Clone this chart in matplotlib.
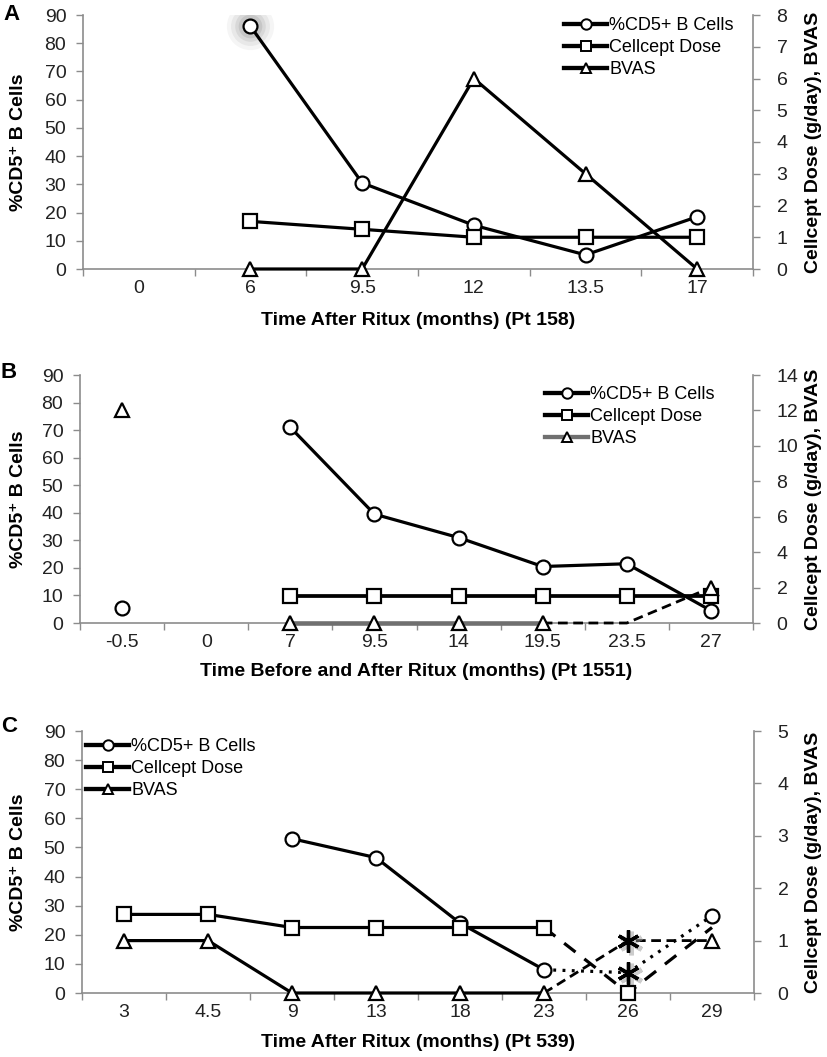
import numpy as np
import matplotlib
matplotlib.use("Agg")
import matplotlib.pyplot as plt
from matplotlib.lines import Line2D

plt.rcParams['font.family'] = ['Liberation Sans', 'DejaVu Sans']

nan = np.nan

# ---------------- Data ----------------
# Panel A (Pt 158)
cats_a = ["0", "6", "9.5", "12", "13.5", "17"]
cd5_a = [nan, 86, 30.5, 15.5, 5, 18.5]
cellcept_a = [nan, 1.5, 1.25, 1.0, 1.0, 1.0]
bvas_a = [nan, 0, 0, 6, 3, 0]

# Panel B (Pt 1551)
cats_b = ["-0.5", "0", "7", "9.5", "14", "19.5", "23.5", "27"]
cd5_b = [5.5, nan, 71, 39.5, 31, 20.5, 21.5, 4.5]
cellcept_b = [nan, nan, 1.5, 1.5, 1.5, 1.5, 1.5, 1.5]
bvas_b = [12, nan, 0, 0, 0, 0, nan, 2]
bvas_b_dashed = [nan, nan, nan, nan, nan, 0, 0, 2]

# Panel C (Pt 539)
cats_c = ["3", "4.5", "9", "13", "18", "23", "26", "29"]
cd5_c = [nan, nan, 53, 46.5, 24, 8, nan, 26.5]
cd5_c_dotted = [nan, nan, nan, nan, nan, 8, 7, 26.5]
cellcept_c = [1.5, 1.5, 1.25, 1.25, 1.25, 1.25, nan, nan]
cellcept_c_dashed = [nan, nan, nan, nan, nan, 1.25, 0, 1.25]
bvas_c = [1, 1, 0, 0, 0, 0, nan, 1]
bvas_c_dashed = [nan, nan, nan, nan, nan, 0, 1, 1]

# ---------------- Styling ----------------
W, H = 827, 1057
fig = plt.figure(figsize=(W / 100, H / 100), dpi=100)

SPINE = '#8c8c8c'
TXT = '#222222'
FS = 14
LFS = 13
LW = 2.3
MS = 10
MEW = 1.6

def box(l, t, r, b):
    return [l / W, 1 - b / H, (r - l) / W, (b - t) / H]

def setup(ax, ax2, cats, ymax_r, rstep, xlabel):
    n = len(cats)
    x = np.arange(n)
    ax.set_xlim(-0.5, n - 0.5)
    ax.set_ylim(0, 90)
    ax.set_yticks(np.arange(0, 91, 10))
    ax2.set_ylim(0, ymax_r)
    ax2.set_yticks(np.arange(0, ymax_r + 0.01, rstep))
    ax.set_xticks(np.arange(-0.5, n, 1.0))
    ax.set_xticklabels([])
    ax.set_xticks(x, minor=True)
    ax.set_xticklabels(cats, minor=True)
    ax.tick_params(axis='x', which='major', length=5, width=1, color=SPINE, direction='out')
    ax.tick_params(axis='x', which='minor', length=0, pad=8, labelsize=FS, labelcolor=TXT)
    ax.tick_params(axis='y', length=5, width=1, color=SPINE, labelsize=FS, labelcolor=TXT, pad=7)
    ax2.tick_params(axis='y', length=5, width=1, color=SPINE, labelsize=FS, labelcolor=TXT, pad=12)
    for a in (ax, ax2):
        for s in a.spines.values():
            s.set_color(SPINE)
            s.set_linewidth(1.2)
        a.spines['top'].set_visible(False)
    ax.spines['right'].set_visible(False)
    ax2.spines['left'].set_visible(False)
    ax2.spines['bottom'].set_visible(False)
    ax.set_xlabel(xlabel, fontsize=FS, fontweight='bold', color='black')
    ax.set_ylabel('%CD5\u207a B Cells', fontsize=FS, fontweight='bold', color='black')
    ax2.set_ylabel('Cellcept Dose (g/day), BVAS', fontsize=FS, fontweight='bold', color='black')
    return x

def mk(marker):
    return dict(marker=marker, markersize=MS, markerfacecolor='white',
                markeredgecolor='black', markeredgewidth=MEW)

def legend_handles(bvas_color='black'):
    kw = dict(lw=LW + 0.8, markersize=7.5, markerfacecolor='white',
              markeredgecolor='black', markeredgewidth=1.4)
    return [Line2D([], [], color='black', marker='o', **kw),
            Line2D([], [], color='black', marker='s', **kw),
            Line2D([], [], color=bvas_color, marker='^', **kw)]

LABELS = ['%CD5+ B Cells', 'Cellcept Dose', 'BVAS']
LEG = dict(frameon=False, fontsize=LFS, handlelength=2.4, handletextpad=0.1,
           labelspacing=0.28, borderaxespad=0, borderpad=0, loc='upper left')

# ---------------- Panel A ----------------
axA = fig.add_axes(box(83, 15, 753, 269))
axA2 = axA.twinx()
x = setup(axA, axA2, cats_a, 8, 1, 'Time After Ritux (months) (Pt 158)')
for s, a in [(34, 0.08), (28, 0.11), (22, 0.15), (17, 0.2)]:
    axA.plot(x[1], cd5_a[1], 'o', markersize=s, color='#808080', alpha=a, mec='none', zorder=1)
axA.plot(x, cd5_a, color='black', lw=LW, **mk('o'), zorder=4)
axA2.plot(x, cellcept_a, color='black', lw=LW, **mk('s'), zorder=3)
axA2.plot(x, bvas_a, color='black', lw=LW, **mk('^'), zorder=3, clip_on=False)
axA2.legend(legend_handles(), LABELS, bbox_to_anchor=(0.718, 0.992), **LEG)
axA.xaxis.set_label_coords(0.5, -0.17)
axA.yaxis.set_label_coords(-0.084, 0.5)
axA2.yaxis.set_label_coords(1.078, 0.5)

# ---------------- Panel B ----------------
axB = fig.add_axes(box(80, 375, 753, 623))
axB2 = axB.twinx()
x = setup(axB, axB2, cats_b, 14, 2, 'Time Before and After Ritux (months) (Pt 1551)')
axB.plot(x, cd5_b, color='black', lw=LW, **mk('o'), zorder=4)
axB2.plot(x, bvas_b_dashed, color='black', lw=2.0, ls=(0, (3.5, 2)), zorder=2, clip_on=False)
axB2.plot(x, cellcept_b, color='black', lw=LW + 0.4, **mk('s'), zorder=3)
axB2.plot(x, bvas_b, color='#707070', lw=LW + 1.0, **mk('^'), zorder=3, clip_on=False)
axB2.legend(legend_handles('#707070'), LABELS, bbox_to_anchor=(0.691, 0.956), **LEG)
axB.xaxis.set_label_coords(0.5, -0.16)
axB.yaxis.set_label_coords(-0.079, 0.5)
axB2.yaxis.set_label_coords(1.077, 0.5)

# ---------------- Panel C ----------------
axC = fig.add_axes(box(82, 731, 754, 993))
axC2 = axC.twinx()
x = setup(axC, axC2, cats_c, 5, 1, 'Time After Ritux (months) (Pt 539)')
ast = (6, 2, 0)
axC.plot(x, cd5_c_dotted, color='black', lw=2.3, ls=(0, (0.9, 2.0)), zorder=2)
axC.plot(x, cd5_c, color='black', lw=LW, **mk('o'), zorder=4)
axC.plot(x[6] + 0.04, cd5_c_dotted[6] - 0.9, marker=ast, markersize=17, mew=3.5,
         color='#9a9a9a', alpha=0.5, ls='none', zorder=3)
axC.plot(x[6], cd5_c_dotted[6], marker=ast, markersize=16, mew=2.4, color='black',
         ls='none', zorder=5)
axC2.plot(x, cellcept_c_dashed, color='black', lw=LW, ls=(0, (4.5, 3.5)), zorder=2)
axC2.plot(x, bvas_c_dashed, color='black', lw=2.0, ls=(0, (3.5, 2)), zorder=2, clip_on=False)
axC2.plot(x, cellcept_c, color='black', lw=LW, **mk('s'), zorder=3)
axC2.plot(x[6], cellcept_c_dashed[6], color='black', **mk('s'), zorder=3, clip_on=False)
axC2.plot(x, bvas_c, color='black', lw=LW, **mk('^'), zorder=3, clip_on=False)
axC2.plot(x[6] + 0.04, bvas_c_dashed[6] - 0.05, marker=ast, markersize=17, mew=3.5,
          color='#9a9a9a', alpha=0.5, ls='none', zorder=3)
axC2.plot(x[6], bvas_c_dashed[6], marker=ast, markersize=16, mew=2.4, color='black',
          ls='none', zorder=5)
axC2.legend(legend_handles(), LABELS, bbox_to_anchor=(0.006, 0.973), **LEG)
axC.xaxis.set_label_coords(0.5, -0.157)
axC.yaxis.set_label_coords(-0.082, 0.5)
axC2.yaxis.set_label_coords(1.076, 0.5)

# Panel letters
fig.text(12 / W, 1 - 14 / H, 'A', fontsize=16, fontweight='bold', ha='center', va='center')
fig.text(9 / W, 1 - 373 / H, 'B', fontsize=16, fontweight='bold', ha='center', va='center')
fig.text(9 / W, 1 - 727 / H, 'C', fontsize=16, fontweight='bold', ha='center', va='center')

fig.savefig('out.png', dpi=100)
